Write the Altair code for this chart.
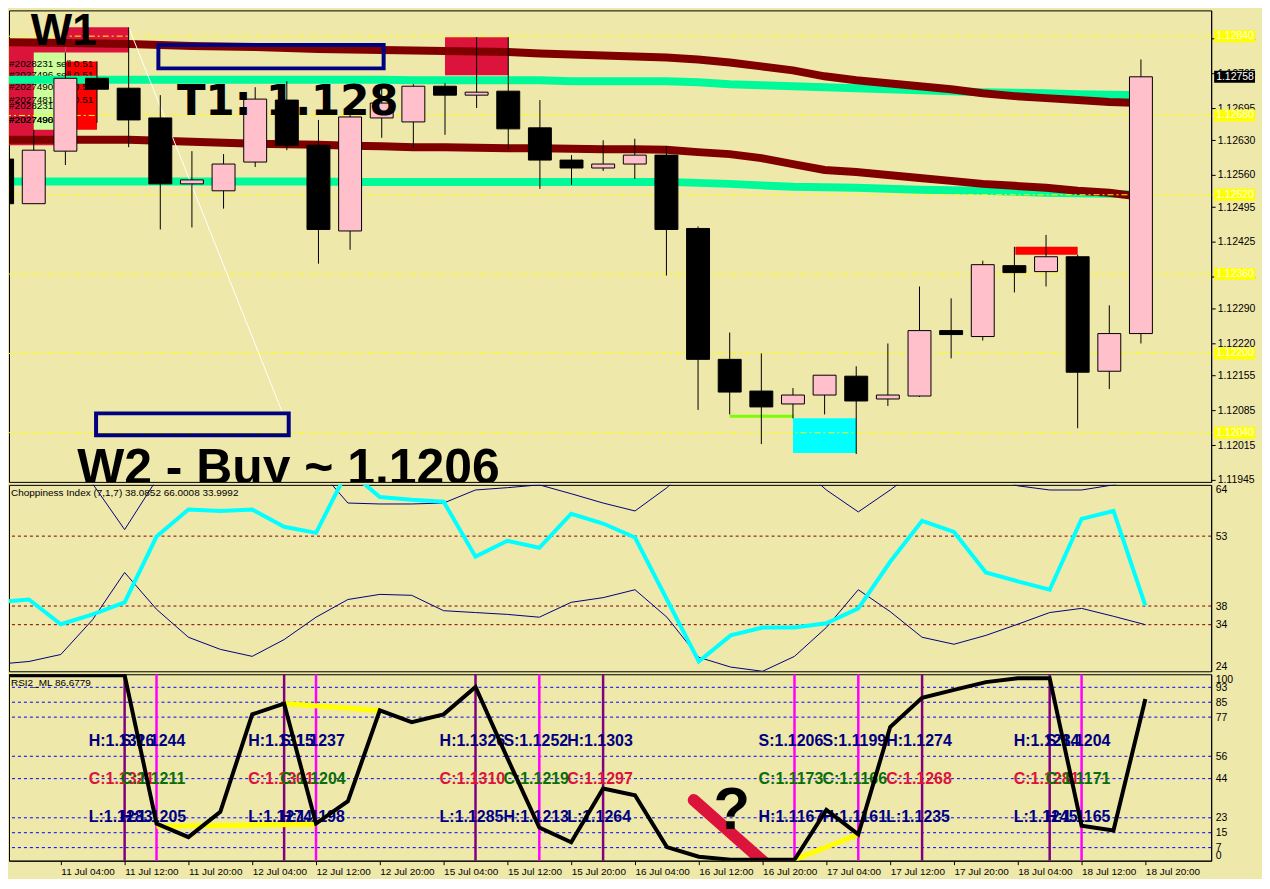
import altair as alt
import pandas as pd

# ---------------- data ----------------
tick_labels = ["11 Jul 04:00", "11 Jul 12:00", "11 Jul 20:00", "12 Jul 04:00", "12 Jul 12:00",
               "12 Jul 20:00", "15 Jul 04:00", "15 Jul 12:00", "15 Jul 20:00", "16 Jul 04:00",
               "16 Jul 12:00", "16 Jul 20:00", "17 Jul 04:00", "17 Jul 12:00", "17 Jul 20:00",
               "18 Jul 04:00", "18 Jul 12:00", "18 Jul 20:00"]

opens = [1.12592, 1.12502, 1.12608, 1.12755, 1.12735, 1.12675, 1.12542, 1.12528, 1.12586, 1.12711,
         1.12620, 1.12447, 1.12675, 1.12667, 1.12739, 1.12721, 1.12729, 1.12655, 1.12590, 1.12574,
         1.12582, 1.12600, 1.12452, 1.12188, 1.12124, 1.12098, 1.12116, 1.12154, 1.12108, 1.12114,
         1.12246, 1.12234, 1.12377, 1.12365, 1.12395, 1.12164, 1.12240]
highs = [1.12606, 1.12651, 1.12807, 1.12789, 1.12858, 1.12721, 1.12608, 1.12602, 1.12737, 1.12749,
         1.12671, 1.12681, 1.12737, 1.12743, 1.12745, 1.12838, 1.12838, 1.12711, 1.12600, 1.12630,
         1.12633, 1.12618, 1.12456, 1.12242, 1.12200, 1.12130, 1.12156, 1.12174, 1.12220, 1.12335,
         1.12311, 1.12387, 1.12415, 1.12439, 1.12399, 1.12297, 1.12793]
lows = [1.12496, 1.12502, 1.12580, 1.12665, 1.12616, 1.12450, 1.12454, 1.12492, 1.12576, 1.12610,
        1.12381, 1.12409, 1.12635, 1.12614, 1.12641, 1.12695, 1.12612, 1.12532, 1.12540, 1.12568,
        1.12552, 1.12357, 1.12086, 1.12077, 1.12017, 1.12069, 1.12077, 1.11997, 1.12094, 1.12112,
        1.12190, 1.12226, 1.12323, 1.12335, 1.12049, 1.12128, 1.12220]
closes = [1.12502, 1.12610, 1.12755, 1.12733, 1.12671, 1.12542, 1.12550, 1.12582, 1.12713, 1.12620,
          1.12450, 1.12677, 1.12705, 1.12739, 1.12721, 1.12727, 1.12653, 1.12590, 1.12574, 1.12582,
          1.12600, 1.12450, 1.12188, 1.12122, 1.12092, 1.12116, 1.12156, 1.12104, 1.12116, 1.12246,
          1.12238, 1.12379, 1.12363, 1.12395, 1.12162, 1.12240, 1.12758]

ma_up_maroon = [1.12828, 1.12827, 1.12826, 1.12825, 1.12824, 1.12822, 1.12820, 1.12819, 1.12818, 1.12816,
                1.12814, 1.12813, 1.12812, 1.12811, 1.12810, 1.12809, 1.12808, 1.12805, 1.12803, 1.12801,
                1.12799, 1.12797, 1.12793, 1.12787, 1.12779, 1.12771, 1.12759, 1.12751, 1.12745, 1.12739,
                1.12733, 1.12725, 1.12719, 1.12715, 1.12711, 1.12707, 1.12705]
ma_up_green = [1.12752, 1.12752, 1.12752, 1.12752, 1.12752, 1.12752, 1.12752, 1.12752, 1.12752, 1.12752,
               1.12752, 1.12752, 1.12752, 1.12751, 1.12751, 1.12751, 1.12751, 1.12751, 1.12749, 1.12749,
               1.12749, 1.12749, 1.12747, 1.12743, 1.12741, 1.12739, 1.12737, 1.12735, 1.12733, 1.12731,
               1.12729, 1.12727, 1.12726, 1.12725, 1.12723, 1.12722, 1.12721]
ma_lo_maroon = [1.12631, 1.12631, 1.12631, 1.12631, 1.12631, 1.12629, 1.12627, 1.12625, 1.12623, 1.12622,
                1.12621, 1.12619, 1.12618, 1.12616, 1.12616, 1.12615, 1.12614, 1.12614, 1.12613, 1.12612,
                1.12612, 1.12611, 1.12606, 1.12602, 1.12594, 1.12582, 1.12570, 1.12566, 1.12560, 1.12554,
                1.12548, 1.12542, 1.12538, 1.12534, 1.12528, 1.12524, 1.12516]
ma_lo_green = [1.12547, 1.12547, 1.12547, 1.12547, 1.12547, 1.12547, 1.12547, 1.12547, 1.12547, 1.12547,
               1.12547, 1.12546, 1.12546, 1.12546, 1.12546, 1.12546, 1.12546, 1.12546, 1.12546, 1.12546,
               1.12546, 1.12546, 1.12544, 1.12542, 1.12539, 1.12536, 1.12535, 1.12534, 1.12532, 1.12530,
               1.12529, 1.12528, 1.12526, 1.12524, 1.12523, 1.12522, 1.12520]

price_ticks = [1.12900, 1.12835, 1.12765, 1.12695, 1.12630, 1.12560, 1.12495, 1.12425, 1.12355,
               1.12290, 1.12220, 1.12155, 1.12085, 1.12015, 1.11945]
price_levels = [1.12840, 1.12680, 1.12520, 1.12360, 1.12200, 1.12040]
current_price = [1.12758]

zone_x1 = [2, 0, 1, 2, 14, 25, 32.03]
zone_x2 = [4, 2, 2, 3, 16, 27, 34]
zone_y1 = [1.12807, 1.12620, 1.12651, 1.12651, 1.12761, 1.11999, 1.12399]
zone_y2 = [1.12858, 1.12820, 1.12807, 1.12789, 1.12838, 1.12069, 1.12415]
zone_kind = ["order", "order", "label", "stop", "order", "target", "stop"]

box_x1 = [4.94, 2.97]
box_x2 = [12.06, 9.06]
box_y1 = [1.12775, 1.12035]
box_y2 = [1.12822, 1.12079]

trade_texts = ["#2028231 sell 0.51", "#2027496 sell 0.51", "#2027490 sell 0.51",
               "#2027481 sell 0.51", "#2028231 tp", "#2027496 tp", "#2027490 tp"]
trade_prices = [1.12783, 1.12761, 1.12737, 1.12711, 1.12699, 1.12671, 1.12671]

chop_cyan = [38.8, 39.4, 34.1, 36.2, 38.8, 52.9, 58.7, 58.4, 58.7, 55.0, 53.7, 67.2, 61.4, 60.8, 60.4,
             48.6, 52.0, 50.5, 57.8, 55.7, 52.7, 39.4, 26.1, 31.7, 33.4, 33.4, 34.3, 37.5, 47.5, 56.3,
             53.9, 45.2, 43.3, 41.5, 56.7, 58.4, 38.1]
chop_low = [25.5, 26.1, 27.6, 35.1, 45.2, 37.3, 31.3, 28.7, 27.2, 30.8, 35.6, 39.4, 40.5, 40.3, 37.0,
            36.6, 36.2, 35.6, 38.8, 39.8, 41.5, 35.6, 27.0, 24.9, 24.0, 27.2, 33.4, 41.5, 36.8, 31.3,
            29.8, 31.7, 34.1, 36.6, 37.5, 35.8, 34.0]
chop_up = [70, 70, 69, 64.2, 54.4, 65.1, 70, 71, 71, 70, 68, 60.1, 59.9, 59.9, 60.1, 62.9, 63.4, 64.0,
           62.1, 60.1, 58.4, 63.4, 70, 72, 71, 69, 62.9, 58.2, 62.9, 68, 69, 67, 63.8, 62.9, 62.9,
           64.0, 66.0]
chop_ticks = [64, 53, 38, 34, 24]
chop_levels = [53, 38, 34]
chop_title = "Choppiness Index (7,1,7) 38.0852 66.0008 33.9992"

rsi = [99.5, 99.5, 99.5, 99.5, 99.5, 19.9, 12.6, 26.2, 78.5, 84.3, 19.9, 31.9, 80.6, 74.3, 78.5,
       93.2, 55.0, 17.8, 9.9, 38.7, 35.1, 7.3, 2.1, 0.5, 0.5, 0.5, 27.2, 14.1, 71.7, 87.4, 91.6,
       95.8, 97.9, 97.9, 18.8, 16.2, 86.7]
rsi_ticks = [100, 93, 85, 77, 56, 44, 23, 15, 7, 0]
rsi_levels = [93, 85, 77, 56, 44, 23, 15, 7]
rsi_title = "RSI2_ML 86.6779"

seg_x1 = [5, 9, 25]
seg_x2 = [10, 12, 27]
seg_y1 = [18.5, 84.3, 0.5]
seg_y2 = [19.5, 80.6, 14.1]

vline_idx = [4, 9, 15, 19, 29, 33, 5, 10, 17, 25, 27, 34]
vline_kind = ["main", "main", "main", "main", "main", "main", "alt", "alt", "alt", "alt", "alt", "alt"]
label_top = ["H:1.1326", "H:1.1315", "H:1.1326", "H:1.1303", "H:1.1274", "H:1.1284",
             "S:1.1244", "S:1.1237", "S:1.1252", "S:1.1206", "S:1.1199", "S:1.1204"]
label_mid = ["C:1.1321", "C:1.1301", "C:1.1310", "C:1.1297", "C:1.1268", "C:1.1281",
             "C:1.1211", "C:1.1204", "C:1.1219", "C:1.1173", "C:1.1166", "C:1.1171"]
label_bot = ["L:1.1283", "L:1.1274", "L:1.1285", "L:1.1264", "L:1.1235", "L:1.1245",
             "H:1.1205", "H:1.1198", "H:1.1213", "H:1.1167", "H:1.1161", "H:1.1165"]

# ---------------- layout / style ----------------
W = 1206
H_PRICE, H_CHOP, H_RSI = 473, 187, 187
BG = "#EEE8AA"
FONT = "Liberation Sans"
P_BOT, P_TOP = 1.119408, 1.128920
NO_PAD = {"left": 0, "top": 0, "right": 0, "bottom": 0}

xs = alt.Scale(domain=[0.375, 38.0625], nice=False, zero=False)
ys_price = alt.Scale(domain=[P_BOT, P_TOP], nice=False, zero=False)
ys_chop = alt.Scale(domain=[24, 64], nice=False, zero=False)
ys_rsi = alt.Scale(domain=[0, 100], nice=False, zero=False)

# only the ticks that fall inside the visible price range get an axis label
visible_ticks = [v for v in price_ticks if P_BOT <= v <= P_TOP]

common_axis = dict(title=None, grid=False, labelFont=FONT, labelFontSize=10.5, labelColor="black",
                   domainColor="black", labelOverlap=False)
price_axis = alt.Axis(orient="right", values=visible_ticks, format=".5f", tickColor="black",
                      tickSize=4, labelPadding=2, **common_axis)
chop_axis = alt.Axis(orient="right", values=chop_ticks, ticks=False, labelFlush=True, labelPadding=4,
                     **common_axis)
rsi_axis = alt.Axis(orient="right", values=rsi_ticks, ticks=False, labelFlush=True, labelPadding=4,
                    **common_axis)
tick_pos = [2 * (k + 1) for k in range(len(tick_labels))]
label_expr = "[" + ",".join("'" + s + "'" for s in tick_labels) + "][round(datum.value/2)-1]"
x_axis = alt.Axis(values=tick_pos, labelExpr=label_expr, labelAlign="left", title=None, grid=False,
                  labelFont=FONT, labelFontSize=10, labelColor="black", tickColor="black",
                  tickSize=4, domainColor="black", labelPadding=2, labelOverlap=False, labelFlush=False)


def PX(f, ax=None):
    return alt.X(f, type="quantitative", scale=xs, axis=ax)


def PY(f, sc, ax):
    return alt.Y(f, type="quantitative", scale=sc, axis=ax)


idx = list(range(len(opens)))
cdf = pd.DataFrame({"i": idx, "open": opens, "high": highs, "low": lows, "close": closes,
                    "mum": ma_up_maroon, "mug": ma_up_green, "mlm": ma_lo_maroon, "mlg": ma_lo_green,
                    "cc": chop_cyan, "cl": chop_low, "cu": chop_up, "rsi": rsi})
cdf["fill"] = ["#FFC0CB" if c >= o else "#000000" for o, c in zip(opens, closes)]

zone_color = {"order": "#DC143C", "label": "#CCFF99", "stop": "#FF0000", "target": "#00FFFF"}
zdf = pd.DataFrame({"x1": zone_x1, "x2": zone_x2, "y1": zone_y1, "y2": zone_y2,
                    "c": [zone_color[k] for k in zone_kind]})
bdf = pd.DataFrame({"x1": box_x1, "x2": box_x2, "y1": box_y1, "y2": box_y2})
tdf = pd.DataFrame({"t": trade_texts, "y": trade_prices, "x": [0.22] * len(trade_texts)})
ldf = pd.DataFrame({"lvl": price_levels})
pdf_ = pd.DataFrame({"lvl": current_price})


def pY(f):
    return PY(f, ys_price, price_axis)


zones = alt.Chart(zdf).mark_rect(clip=True).encode(
    x=PX("x1"), x2="x2", y=pY("y1"), y2="y2", color=alt.Color("c:N", scale=None))
levels = alt.Chart(ldf).mark_rule(color="#FFFF00", strokeWidth=1, strokeDash=[6, 3, 2, 3]).encode(
    y=pY("lvl"))
trades = alt.Chart(tdf).mark_text(align="left", baseline="middle", font=FONT, fontSize=10,
                                  color="black", clip=True).encode(
    x=PX("x"), y=pY("y"), text="t:N")


def ma(field, color):
    return alt.Chart(cdf).mark_line(color=color, strokeWidth=8, clip=True).encode(
        x=PX("i"), y=pY(field))


boxes = alt.Chart(bdf).mark_rect(filled=False, stroke="#000080", strokeWidth=4, clip=True).encode(
    x=PX("x1"), x2="x2", y=pY("y1"), y2="y2")
diag = alt.Chart(pd.DataFrame({"x1": [4.0], "x2": [8.84], "y1": [1.12858], "y2": [1.12084]})).mark_rule(
    color="white", strokeWidth=1, clip=True).encode(x=PX("x1"), x2="x2", y=pY("y1"), y2="y2")
gline = alt.Chart(pd.DataFrame({"x1": [23.0], "x2": [25.03], "y1": [1.12073]})).mark_rule(
    color="#7CFC00", strokeWidth=3, clip=True).encode(x=PX("x1"), x2="x2", y=pY("y1"))
wicks = alt.Chart(cdf).mark_rule(color="black", strokeWidth=1, clip=True).encode(
    x=PX("i"), y=pY("low"), y2="high")
bodies = alt.Chart(cdf).mark_bar(size=23, stroke="black", strokeWidth=1, clip=True).encode(
    x=PX("i"), y=pY("open"), y2="close", color=alt.Color("fill:N", scale=None))


def big_text(txt, x, y, size, font, baseline="alphabetic"):
    d = pd.DataFrame({"t": [txt], "x": [x], "y": [y]})
    return alt.Chart(d).mark_text(align="left", baseline=baseline, font=font, fontSize=size,
                                  fontWeight="bold", color="black", clip=True).encode(
        x=PX("x"), y=pY("y"), text="t:N")


w1 = big_text("W1", 0.906, P_TOP, 44, FONT, baseline="top")
t1 = big_text("T1: 1.128", 5.53, 1.12681, 42, "DejaVu Sans")
w2 = big_text("W2 - Buy ~ 1.1206", 2.375, 1.11937, 50, FONT)

side_box = alt.Chart(ldf).mark_rule(color="#FFFF00", strokeWidth=12).encode(
    x=alt.value(W + 3), x2=alt.value(W + 44), y=pY("lvl"))
side_txt = alt.Chart(ldf).mark_text(align="left", baseline="middle", font=FONT, fontSize=10.5,
                                    color="#FFFFE0").encode(
    x=alt.value(W + 5), y=pY("lvl"), text=alt.Text("lvl:Q", format=".5f"))
cur_box = alt.Chart(pdf_).mark_rule(color="black", strokeWidth=12).encode(
    x=alt.value(W + 3), x2=alt.value(W + 44), y=pY("lvl"))
cur_txt = alt.Chart(pdf_).mark_text(align="left", baseline="middle", font=FONT, fontSize=10.5,
                                    color="white").encode(
    x=alt.value(W + 5), y=pY("lvl"), text=alt.Text("lvl:Q", format=".5f"))

price = alt.layer(zones, trades,
                  ma("mug", "#00FA9A"), ma("mlg", "#00FA9A"), ma("mum", "#800000"), ma("mlm", "#800000"),
                  levels, boxes, diag, gline, wicks, bodies, w1, t1, w2,
                  side_box, side_txt, cur_box, cur_txt).properties(width=W, height=H_PRICE)

# ---------------- choppiness panel ----------------
def cY(f):
    return PY(f, ys_chop, chop_axis)


cl_df = pd.DataFrame({"lvl": chop_levels})
chop_lv = alt.Chart(cl_df).mark_rule(color="#800000", strokeWidth=1, strokeDash=[3, 3]).encode(
    y=cY("lvl"))


def cline(field, color, width):
    return alt.Chart(cdf).mark_line(color=color, strokeWidth=width, clip=True).encode(
        x=PX("i"), y=cY(field))


chop_t = alt.Chart(pd.DataFrame({"t": [chop_title]})).mark_text(
    align="left", baseline="middle", font=FONT, fontSize=10, color="black").encode(
    x=alt.value(2), y=alt.value(8), text="t:N")
chop = alt.layer(chop_lv, cline("cu", "#000080", 1), cline("cl", "#000080", 1),
                 cline("cc", "#00FFFF", 4), chop_t).properties(width=W, height=H_CHOP)

# ---------------- RSI panel ----------------
def rX(f):
    return PX(f, x_axis)


def rY(f):
    return PY(f, ys_rsi, rsi_axis)


rl_df = pd.DataFrame({"lvl": rsi_levels})
rsi_lv = alt.Chart(rl_df).mark_rule(color="#0000FF", strokeWidth=1, strokeDash=[3, 3]).encode(
    y=rY("lvl"))
vcol = {"main": "#800080", "alt": "#FF00FF"}
vdf = pd.DataFrame({"i": vline_idx, "c": [vcol[k] for k in vline_kind]})
vlines = alt.Chart(vdf).mark_rule(strokeWidth=2.5).encode(x=rX("i"), color=alt.Color("c:N", scale=None))
sdf = pd.DataFrame({"x1": seg_x1, "x2": seg_x2, "y1": seg_y1, "y2": seg_y2})
segs = alt.Chart(sdf).mark_rule(color="#FFFF00", strokeWidth=5, clip=True).encode(
    x=rX("x1"), x2="x2", y=rY("y1"), y2="y2")
slash = alt.Chart(pd.DataFrame({"x1": [21.84], "x2": [24.19], "y1": [32.5], "y2": [-3.0]})).mark_rule(
    color="#DC143C", strokeWidth=12, strokeCap="round", clip=True).encode(
    x=rX("x1"), x2="x2", y=rY("y1"), y2="y2")
rline = alt.Chart(cdf).mark_line(color="black", strokeWidth=4, clip=True).encode(
    x=rX("i"), y=rY("rsi"))
qmark = alt.Chart(pd.DataFrame({"t": ["?"], "x": [23.03], "y": [16.8]})).mark_text(
    align="center", baseline="alphabetic", font=FONT, fontSize=60, fontWeight="bold",
    color="black").encode(x=rX("x"), y=rY("y"), text="t:N")

row_levels = [64, 44, 23.5]
rows = []
for i, k, a, b, c in zip(vline_idx, vline_kind, label_top, label_mid, label_bot):
    rows.append({"i": i, "y": row_levels[0], "t": a, "c": "#000080"})
    rows.append({"i": i, "y": row_levels[1], "t": b, "c": "#DC143C" if k == "main" else "#0B6E0B"})
    rows.append({"i": i, "y": row_levels[2], "t": c, "c": "#000080"})
lab_df = pd.DataFrame(rows)
labels = alt.Chart(lab_df).mark_text(align="left", baseline="middle", dx=-36, font=FONT, fontSize=16,
                                     fontWeight="bold").encode(
    x=rX("i"), y=rY("y"), text="t:N", color=alt.Color("c:N", scale=None))
rsi_t = alt.Chart(pd.DataFrame({"t": [rsi_title]})).mark_text(
    align="left", baseline="middle", font=FONT, fontSize=10, color="black").encode(
    x=alt.value(2), y=alt.value(9), text="t:N")

rsi_panel = alt.layer(rsi_lv, vlines, labels, segs, slash, rline, qmark, rsi_t).properties(
    width=W, height=H_RSI)

chart = alt.vconcat(price, chop, rsi_panel, spacing=3, bounds="flush", padding=NO_PAD).configure(
    background=BG, padding=NO_PAD).configure_view(stroke="black", strokeWidth=1)

chart.save("out.html", embed_options={"renderer": "svg", "actions": False, "padding": 0})
